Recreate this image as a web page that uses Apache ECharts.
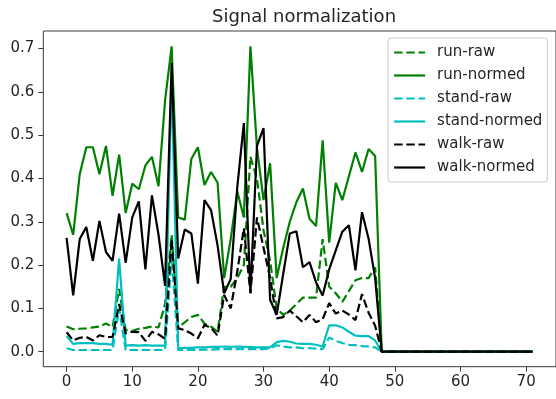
<!DOCTYPE html>
<html>
<head>
<meta charset="utf-8">
<script src="https://cdn.jsdelivr.net/npm/echarts@6/dist/echarts.min.js"></script>
<style>
html,body{margin:0;padding:0;background:#fff;}
#chart{width:556px;height:399px;}
</style>
</head>
<body>
<div id="chart"></div>
<script>
const titleText = 'Signal normalization';
const xIndex = [0,1,2,3,4,5,6,7,8,9,10,11,12,13,14,15,16,17,18,19,20,21,22,23,24,25,26,27,28,29,30,31,32,33,34,35,36,37,38,39,40,41,42,43,44,45,46,47,48,49,50,51,52,53,54,55,56,57,58,59,60,61,62,63,64,65,66,67,68,69,70,71];
const xTicks = [0,10,20,30,40,50,60,70];
const yTicks = [0.0,0.1,0.2,0.3,0.4,0.5,0.6,0.7];
const seriesNames = ['run-raw','run-normed','stand-raw','stand-normed','walk-raw','walk-normed'];

const runRaw = [0.058,0.052,0.053,0.054,0.056,0.058,0.065,0.057,0.145,0.05,0.048,0.053,0.055,0.058,0.056,0.11,0.27,0.055,0.068,0.08,0.085,0.065,0.058,0.046,0.15,0.15,0.17,0.2,0.45,0.4,0.28,0.21,0.1,0.085,0.095,0.11,0.125,0.125,0.125,0.26,0.15,0.135,0.115,0.14,0.165,0.17,0.17,0.195,0,0,0,0,0,0,0,0,0,0,0,0,0,0,0,0,0,0,0,0,0,0,0,0];
const runNormed = [0.32,0.27,0.41,0.472,0.472,0.41,0.475,0.36,0.455,0.32,0.388,0.375,0.43,0.45,0.382,0.58,0.705,0.31,0.305,0.445,0.472,0.385,0.415,0.39,0.17,0.26,0.37,0.31,0.705,0.47,0.35,0.435,0.17,0.24,0.30,0.345,0.377,0.307,0.29,0.488,0.252,0.39,0.35,0.405,0.46,0.415,0.468,0.452,0,0,0,0,0,0,0,0,0,0,0,0,0,0,0,0,0,0,0,0,0,0,0,0];
const standRaw = [0.008,0.004,0.004,0.004,0.004,0.004,0.004,0.004,0.1,0.004,0.004,0.004,0.004,0.004,0.004,0.004,0.22,0.004,0.004,0.004,0.004,0.005,0.005,0.006,0.006,0.006,0.006,0.006,0.006,0.006,0.006,0.008,0.015,0.012,0.01,0.01,0.008,0.008,0.007,0.006,0.033,0.025,0.02,0.016,0.015,0.013,0.012,0.01,0,0,0,0,0,0,0,0,0,0,0,0,0,0,0,0,0,0,0,0,0,0,0,0];
const standNormed = [0.036,0.018,0.02,0.02,0.02,0.018,0.018,0.016,0.215,0.014,0.015,0.014,0.015,0.014,0.014,0.014,0.63,0.008,0.009,0.009,0.01,0.01,0.011,0.011,0.012,0.011,0.012,0.011,0.011,0.01,0.01,0.01,0.022,0.025,0.023,0.019,0.018,0.018,0.016,0.012,0.061,0.061,0.056,0.046,0.037,0.036,0.036,0.026,0,0,0,0,0,0,0,0,0,0,0,0,0,0,0,0,0,0,0,0,0,0,0,0];
const walkRaw = [0.045,0.026,0.032,0.034,0.026,0.038,0.034,0.034,0.11,0.042,0.046,0.045,0.025,0.046,0.04,0.03,0.26,0.054,0.05,0.042,0.031,0.062,0.055,0.037,0.131,0.1,0.185,0.285,0.135,0.31,0.24,0.17,0.077,0.08,0.095,0.082,0.068,0.085,0.068,0.075,0.112,0.088,0.095,0.086,0.073,0.133,0.09,0.06,0,0,0,0,0,0,0,0,0,0,0,0,0,0,0,0,0,0,0,0,0,0,0,0];
const walkNormed = [0.263,0.13,0.26,0.288,0.21,0.302,0.23,0.21,0.319,0.205,0.31,0.347,0.19,0.361,0.27,0.152,0.667,0.215,0.282,0.273,0.157,0.35,0.327,0.245,0.135,0.168,0.38,0.528,0.135,0.475,0.516,0.12,0.085,0.18,0.273,0.278,0.195,0.207,0.16,0.13,0.19,0.234,0.277,0.292,0.188,0.322,0.261,0.17,0,0,0,0,0,0,0,0,0,0,0,0,0,0,0,0,0,0,0,0,0,0,0,0];

const FONT = 'DejaVu Sans';
const GREEN = '#008000', CYAN = '#00bfbf', BLACK = '#000000';
const DASH = [8.5, 3.7];
const LW = 2.2;

function pairs(vals){ return xIndex.map((x,i)=>[x, vals[i]]); }
function mk(name, vals, color, dashed){
  return {
    name: name, type: 'line', data: pairs(vals), symbol: 'none', showSymbol: false,
    lineStyle: {color: color, width: LW, type: dashed ? DASH : 'solid'},
    itemStyle: {color: color},
    animation: false, silent: true
  };
}

const chart = echarts.init(document.getElementById('chart'), null, {renderer: 'canvas'});
chart.setOption({
  animation: false,
  backgroundColor: '#ffffff',
  title: {
    text: titleText, left: 207, top: 3,
    textStyle: {fontFamily: FONT, fontSize: 18, fontWeight: 'normal', color: '#262626'}
  },
  grid: {left: 43.3, top: 31, width: 515.4, height: 335.7, show: true, borderColor: '#3a3a3a', borderWidth: 1, backgroundColor: 'transparent'},
  xAxis: {
    type: 'value', min: -3.55, max: 74.55,
    axisLine: {show: false, onZero: false},
    splitLine: {show: false},
    axisTick: {show: true, inside: false, length: 5, lineStyle: {color: '#3a3a3a', width: 1}, customValues: xTicks},
    axisLabel: {show: true, margin: 8, customValues: xTicks, fontFamily: FONT, fontSize: 15, color: '#262626', formatter: v => String(v)}
  },
  yAxis: {
    type: 'value', min: -0.0346, max: 0.7404,
    axisLine: {show: false, onZero: false},
    splitLine: {show: false},
    axisTick: {show: true, inside: false, length: 5, lineStyle: {color: '#3a3a3a', width: 1}, customValues: yTicks},
    axisLabel: {show: true, margin: 9, customValues: yTicks, fontFamily: FONT, fontSize: 15, color: '#262626', formatter: v => v.toFixed(1)}
  },
  legend: {
    orient: 'vertical', left: 388, top: 38,
    itemWidth: 31, itemHeight: 14, itemGap: 8,
    padding: [7, 5, 7, 5],
    backgroundColor: 'rgba(255,255,255,0.8)', borderColor: '#cccccc', borderWidth: 1, borderRadius: 3,
    itemStyle: {opacity: 0},
    lineStyle: {width: LW},
    textStyle: {fontFamily: FONT, fontSize: 15, color: '#262626', padding: [0,0,0,7]},
    data: seriesNames
  },
  series: [
    mk(seriesNames[0], runRaw, GREEN, true),
    mk(seriesNames[1], runNormed, GREEN, false),
    mk(seriesNames[2], standRaw, CYAN, true),
    mk(seriesNames[3], standNormed, CYAN, false),
    mk(seriesNames[4], walkRaw, BLACK, true),
    mk(seriesNames[5], walkNormed, BLACK, false)
  ]
});
</script>
</body>
</html>
